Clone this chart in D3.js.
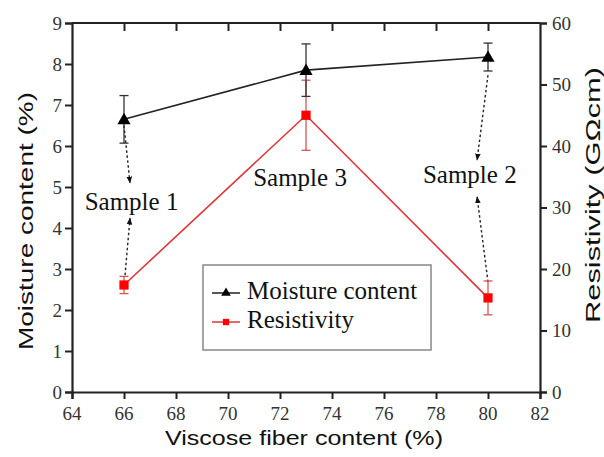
<!DOCTYPE html>
<html><head><meta charset="utf-8">
<script src="https://cdn.jsdelivr.net/npm/d3@7"></script>
<style>body{margin:0;background:#fff}svg{display:block}
.tlab{font-family:'Liberation Serif','Times New Roman',serif;font-size:19px;fill:#333}</style>
</head><body>
<script>
const xValues = [66, 73, 80];
const moisture = [6.65, 7.85, 8.17];
const moistureErr = [0.58, 0.64, 0.34];
const resistivity = [17.4, 45.0, 15.3];
const resistivityErr = [1.4, 5.7, 2.75];
const xTicks = [64, 66, 68, 70, 72, 74, 76, 78, 80, 82];
const yLeftTicks = [0, 1, 2, 3, 4, 5, 6, 7, 8, 9];
const yRightTicks = [0, 10, 20, 30, 40, 50, 60];
const sampleLabels = [
  {text: "Sample 1", x: 66.29, y: 4.44},
  {text: "Sample 3", x: 72.77, y: 5.02},
  {text: "Sample 2", x: 79.3, y: 5.1}
];
// arrows in (x, moisture-axis units)
const arrows = [
  {x1: 66.0, y1: 6.5, x2: 66.23, y2: 5.1},
  {x1: 66.04, y1: 2.85, x2: 66.23, y2: 4.24},
  {x1: 80.0, y1: 7.73, x2: 79.58, y2: 5.66},
  {x1: 80.0, y1: 2.68, x2: 79.58, y2: 4.76}
];
const legendItems = ["Moisture content", "Resistivity"];

const W = 604, H = 457;
const L = 72, R = 540, T = 23, B = 392;
const svg = d3.select("body").append("svg").attr("width", W).attr("height", H);
const x = d3.scaleLinear().domain([64, 82]).range([L, R]);
const yL = d3.scaleLinear().domain([0, 9]).range([B, T]);
const yR = d3.scaleLinear().domain([0, 60]).range([B, T]);
const serif = "'Liberation Serif','Times New Roman',serif";
const sans = "'Liberation Sans',Arial,sans-serif";
const red = "#e2353a";

svg.append("defs").append("marker").attr("id", "ah").attr("viewBox", "0 0 10 10")
  .attr("refX", 9).attr("refY", 5).attr("markerWidth", 7).attr("markerHeight", 9)
  .attr("markerUnits", "userSpaceOnUse").attr("orient", "auto")
  .append("path").attr("d", "M0,1 L10,5 L0,9 Z").attr("fill", "#111");

// axes (tick marks via d3 axes, labels via the same scales)
const axB = svg.append("g").attr("transform", `translate(0,${B})`)
  .call(d3.axisBottom(x).tickValues(xTicks).tickSize(7).tickFormat(""));
const axT = svg.append("g").attr("transform", `translate(0,${T})`)
  .call(d3.axisBottom(x).tickValues(xTicks.slice(1, -1)).tickSize(8).tickFormat(""));
const axL = svg.append("g").attr("transform", `translate(${L},0)`)
  .call(d3.axisLeft(yL).tickValues(yLeftTicks).tickSize(7).tickFormat(""));
const axR = svg.append("g").attr("transform", `translate(${R},0)`)
  .call(d3.axisRight(yR).tickValues(yRightTicks).tickSize(7).tickFormat(""));
[axB, axT, axL, axR].forEach(g => {
  g.select(".domain").attr("stroke", "#222").attr("stroke-width", 2.2);
  g.selectAll(".tick line").attr("stroke", "#222").attr("stroke-width", 2);
});
axT.select(".domain").attr("d", `M${L},0H${R}`);

svg.append("g").selectAll("text").data(xTicks).join("text").attr("class", "tlab")
  .attr("x", d => x(d)).attr("y", 420).attr("text-anchor", "middle").text(d => d);
svg.append("g").selectAll("text").data(yLeftTicks).join("text").attr("class", "tlab")
  .attr("x", 62).attr("y", d => yL(d) + 6.5).attr("text-anchor", "end").text(d => d);
svg.append("g").selectAll("text").data(yRightTicks).join("text").attr("class", "tlab")
  .attr("x", 552).attr("y", d => yR(d) + 6.5).attr("text-anchor", "start").text(d => d);

// axis titles
svg.append("text").attr("x", (L + R) / 2 - 2).attr("y", 445).attr("text-anchor", "middle")
  .style("font-family", sans).style("font-size", "21px").attr("fill", "#111")
  .attr("textLength", 278).attr("lengthAdjust", "spacingAndGlyphs")
  .text("Viscose fiber content (%)");
svg.append("text").attr("transform", "translate(33,221) rotate(-90)").attr("text-anchor", "middle")
  .style("font-family", sans).style("font-size", "21px").attr("fill", "#111")
  .attr("textLength", 258).attr("lengthAdjust", "spacingAndGlyphs")
  .text("Moisture content (%)");
svg.append("text").attr("transform", "translate(600,195) rotate(-90)").attr("text-anchor", "middle")
  .style("font-family", sans).style("font-size", "21px").attr("fill", "#111")
  .attr("textLength", 256).attr("lengthAdjust", "spacingAndGlyphs")
  .text("Resistivity (GΩcm)");

// arrows
svg.selectAll(".arrow").data(arrows).join("line")
  .attr("x1", d => x(d.x1)).attr("y1", d => yL(d.y1))
  .attr("x2", d => x(d.x2)).attr("y2", d => yL(d.y2))
  .attr("stroke", "#222").attr("stroke-width", 1.4).attr("stroke-dasharray", "2.5,2.5")
  .attr("marker-end", "url(#ah)");

// lines
const mData = xValues.map((v, i) => ({x: v, y: moisture[i], e: moistureErr[i]}));
const rData = xValues.map((v, i) => ({x: v, y: resistivity[i], e: resistivityErr[i]}));
svg.append("path").datum(rData).attr("fill", "none").attr("stroke", red).attr("stroke-width", 1.6)
  .attr("d", d3.line().x(d => x(d.x)).y(d => yR(d.y)));
svg.append("path").datum(mData).attr("fill", "none").attr("stroke", "#222").attr("stroke-width", 1.6)
  .attr("d", d3.line().x(d => x(d.x)).y(d => yL(d.y)));

function errBars(data, y, color) {
  const g = svg.append("g").attr("stroke", color).attr("stroke-width", 1.3);
  data.forEach(d => {
    const cx = x(d.x), t = y(d.y + d.e), b = y(d.y - d.e);
    g.append("line").attr("x1", cx).attr("x2", cx).attr("y1", t).attr("y2", b);
    g.append("line").attr("x1", cx - 4.5).attr("x2", cx + 4.5).attr("y1", t).attr("y2", t);
    g.append("line").attr("x1", cx - 4.5).attr("x2", cx + 4.5).attr("y1", b).attr("y2", b);
  });
}
errBars(rData, yR, "#d9534f");
errBars(mData, yL, "#333");

const tri = d3.symbol().type(d3.symbolTriangle).size(75);
const sq = d3.symbol().type(d3.symbolSquare).size(85);
svg.selectAll(".tri").data(mData).join("path")
  .attr("transform", d => `translate(${x(d.x)},${yL(d.y) + 1})`).attr("d", tri).attr("fill", "#000");
svg.selectAll(".sq").data(rData).join("path")
  .attr("transform", d => `translate(${x(d.x)},${yR(d.y)})`).attr("d", sq).attr("fill", "#f00");

// sample labels
svg.selectAll(".lab").data(sampleLabels).join("text")
  .attr("x", d => x(d.x)).attr("y", d => yL(d.y)).attr("text-anchor", "middle")
  .style("font-family", serif).style("font-size", "25px").attr("fill", "#111").text(d => d.text);

// legend
const lg = svg.append("g");
lg.append("rect").attr("x", 203).attr("y", 265).attr("width", 228).attr("height", 85)
  .attr("fill", "#fff").attr("stroke", "#888").attr("stroke-width", 1.5);
const legColors = ["#222", red];
legendItems.forEach((name, i) => {
  const yy = 293 + i * 29;
  lg.append("line").attr("x1", 212).attr("x2", 240).attr("y1", yy).attr("y2", yy)
    .attr("stroke", legColors[i]).attr("stroke-width", 1.5);
  lg.append("path").attr("transform", `translate(226,${yy})`)
    .attr("d", i === 0 ? d3.symbol().type(d3.symbolTriangle).size(40)() : d3.symbol().type(d3.symbolSquare).size(40)())
    .attr("fill", i === 0 ? "#000" : "#f00");
  lg.append("text").attr("x", 247).attr("y", yy + 6).style("font-family", serif).style("font-size", "25px")
    .attr("fill", "#111").text(name);
});
</script>
</body></html>
